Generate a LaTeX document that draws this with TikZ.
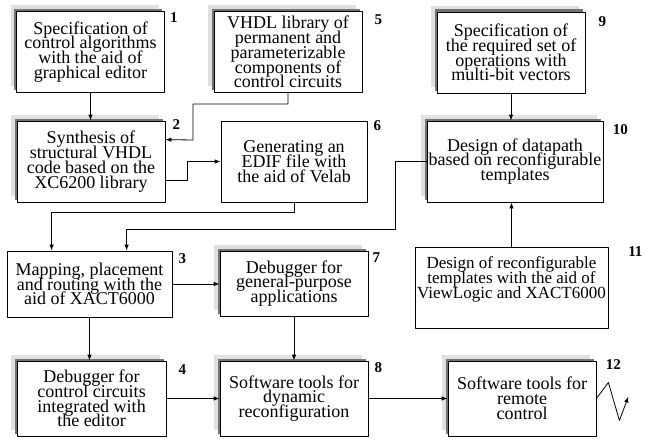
\documentclass[tikz,border=0pt]{standalone}
\usepackage{fontspec}
\setmainfont{Liberation Serif}
\usetikzlibrary{arrows.meta,calc,positioning,shadows}

\newcommand{\stagefont}{\fontsize{18}{14.8}\selectfont\lineskiplimit=-20pt}
\newcommand{\smallstagefont}{\fontsize{17}{14.8}\selectfont\lineskiplimit=-20pt}

\begin{document}
\begin{tikzpicture}[
  x=1pt,y=-1pt,
  line cap=round,line join=round,
  stage/.style={draw,line width=0.8pt,fill=white,inner sep=0pt,
    align=center,font=\stagefont,minimum width=148,minimum height=81},
  shaded/.style={
    drop shadow={shadow xshift=-6pt,shadow yshift=6pt,fill=black!12,opacity=1},
    drop shadow={shadow xshift=-2.5pt,shadow yshift=2.5pt,fill=black!55,opacity=1}},
  num/.style={font=\fontsize{15}{15}\selectfont\bfseries,inner sep=0pt},
  link/.style={-{Latex[length=6pt,width=4.5pt]},line width=0.8pt}
]
  \useasboundingbox (0,0) rectangle (648,444);

  % Control part.
  \node[stage,shaded] (spec) at (90.5,52)
    {Specification of\\control algorithms\\with the aid of\\graphical editor};
  \node[stage,shaded] (synth) at (91,161.5)
    {Synthesis of\\structural VHDL\\code based on the\\XC6200 library};
  \node[stage,shaded] (vhdllib) at (288,52)
    {VHDL library of\\permanent and\\parameterizable\\components of\\control circuits};
  \node[stage,minimum width=146] (edif) at (294,161.5)
    {Generating an\\EDIF file with\\the aid of Velab};

  % Datapath part.
  \node[stage,shaded] (opspec) at (511,52.5)
    {Specification of\\the required set of\\operations with\\multi-bit vectors};
  \node[stage,shaded,minimum width=176] (datapath) at (515,161.5)
    {Design of datapath\\based on reconfigurable\\templates};
  \node[stage,font=\smallstagefont,minimum width=193,text depth=20pt]
    (templ) at (511.5,287.5)
    {Design of reconfigurable\\templates with the aid of\\ViewLogic and XACT6000};

  % Implementation and debugging.
  \node[stage,minimum width=165,minimum height=66] (mapping) at (89.5,284)
    {Mapping, placement\\and routing with the\\aid of XACT6000};
  \node[stage,shaded,minimum height=65] (gendbg) at (294,283.5)
    {Debugger for\\general-purpose\\applications};
  \node[stage,shaded,minimum width=149,minimum height=75] (ctrldbg) at (91.5,398.5)
    {Debugger for\\control circuits\\integrated with\\the editor};
  \node[stage,shaded,minimum height=75] (dynrec) at (294,398.5)
    {Software tools for\\dynamic\\reconfiguration};
  \node[stage,shaded,minimum height=75] (remote) at (522,398.5)
    {Software tools for\\remote\\control};

  % Stage numbers.
  \foreach \boxname/\numtext/\dx/\dy in {
    spec/1/9/6, synth/2/11/4, mapping/3/10/8, ctrldbg/4/16/9,
    vhdllib/5/16/9, edif/6/10/5, gendbg/7/8/7, dynrec/8/10/7,
    opspec/9/17/10, datapath/10/17/9, templ/11/27/5, remote/12/17/4}
    \node[num] (n\numtext) at ($(\boxname.north east)+(\dx,\dy)$) {\numtext};

  % Flow between stages.
  \draw[link] (spec.south) -- (spec.south |- synth.north);
  \draw[link] (vhdllib.south) -- ++(0,11) -| (193,140)
    -- ($(synth.north east)+(0,19)$);
  \draw[link] ($(synth.north east)+(0,60)$) -| (187,161.5) -- (edif.west);
  \draw[link] (edif.south) -- ++(0,10) -| ($(mapping.north west)+(45,0)$);
  \draw[link] (datapath.west) -| (395,229)
    -| ($(mapping.north west)+(120,0)$);
  \draw[link] (opspec.south) -- (opspec.south |- datapath.north);
  \draw[link] (templ.north) -- (templ.north |- datapath.south);
  \draw[link] (mapping.east) -- (mapping.east -| gendbg.west);
  \draw[link] (mapping.south) -- (mapping.south |- ctrldbg.north);
  \draw[link] (gendbg.south) -- (gendbg.south |- dynrec.north);
  \draw[link] (ctrldbg.east) -- (ctrldbg.east -| dynrec.west);
  \draw[link] (dynrec.east) -- (dynrec.east -| remote.west);
  \draw[link] (remote.east) -- ++(12,-16) -- ++(11,38) -- ++(9,-24);
\end{tikzpicture}
\end{document}
